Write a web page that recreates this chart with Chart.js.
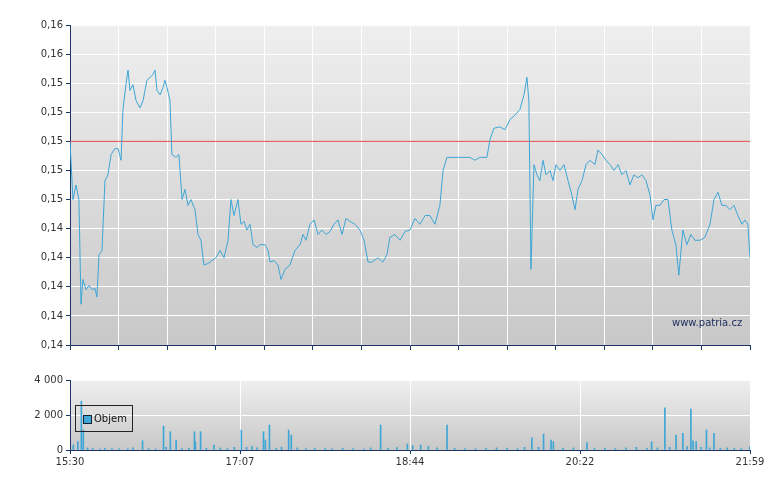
<!DOCTYPE html>
<html><head><meta charset="utf-8">
<script src="https://cdn.jsdelivr.net/npm/chart.js@4"></script>
<style>
body{margin:0;background:#fff;width:780px;height:490px;overflow:hidden;font-family:"DejaVu Sans",Arial,sans-serif}
canvas{position:absolute;left:0}
#wm{position:absolute;left:672px;top:317px;font-size:10px;color:#1a2a5a}
#leg{position:absolute;left:75px;top:405px;width:58px;height:27px;border:1px solid #222;box-sizing:border-box;font-size:10px;color:#111}
#leg span.sw{position:absolute;left:7px;top:9px;width:7px;height:7px;background:#3fa7d6;border:1px solid #123}
#leg span.t{position:absolute;left:18px;top:7px}
</style></head><body>
<canvas id="c1" style="top:0" width="780" height="355"></canvas>
<canvas id="c2" style="top:370px" width="780" height="98"></canvas>
<div id="wm">www.patria.cz</div>
<div id="leg"><span class="sw"></span><span class="t">Objem</span></div>
<script>
const timeLabels=["15:30","17:07","18:44","20:22","21:59"];
const refPrice=0.150;
const priceTimes=[0,1.7,3.4,5.1,6.3,7.4,9.2,10.9,12.6,14.3,15.4,16.6,18.3,20,21.7,23.5,25.7,27.5,29.2,30.3,32,33.2,34.3,36,37.8,40,41.8,44,45.8,47.5,48.6,49.8,51.5,53.2,54.3,55.5,57.2,58.3,60.6,62.3,64.1,65.8,67.5,69.2,71.5,73.2,74.9,76.6,78.9,81.2,83.5,85.8,88.1,90.4,92.1,93.8,96.1,97.8,99.5,101.2,103,104.7,107,108.7,111.5,113.3,114.4,116.7,119,120.7,123,125.8,128.7,131.6,133.3,135,137.3,139.6,141.9,144.1,146.4,148.7,151,153.3,155.6,157.9,160.2,163,165.9,168.2,170.5,172.7,176.2,179,181.3,183,185.9,188.8,191.6,194.5,197.3,200.2,203.1,205.9,208.8,211.6,213.4,215.6,218.5,223.1,228.8,231.7,234.5,238.5,240.2,242.5,246,248.8,251.7,254.5,257.4,259.7,261.4,262.5,263.7,265.4,267.1,268.8,270.6,272.3,274.6,276.3,278,280.3,282.6,284.9,287.1,288.9,290.6,292.9,295.2,297.4,300.3,302,304.3,306.6,308.9,311.2,313.5,315.7,318,320.3,322.6,324.9,327.2,329.5,331.8,333.5,335.2,337.5,339.8,342.1,344.3,346.6,348.3,350.6,352.9,355.2,357.5,360.4,363.2,366.1,368.4,370.7,372.9,375.2,377.5,379.8,382.1,384.4,386.1,387.8,389];
const prices=[.1500,.1460,.1470,.1460,.1388,.1405,.1398,.1401,.1398,.1399,.1393,.1422,.1425,.1473,.1477,.1491,.1495,.1495,.1487,.1522,.1539,.1549,.1535,.1539,.1528,.1523,.1528,.1542,.1544,.1546,.1549,.1535,.1532,.1537,.1542,.1537,.1528,.1491,.1489,.1491,.1460,.1467,.1456,.1460,.1453,.1436,.1432,.1415,.1416,.1418,.1420,.1425,.1420,.1432,.1460,.1449,.1460,.1443,.1445,.1439,.1443,.1429,.1427,.1429,.1429,.1425,.1417,.1418,.1415,.1405,.1412,.1415,.1425,.1429,.1436,.1432,.1443,.1446,.1436,.1439,.1436,.1438,.1443,.1446,.1436,.1447,.1445,.1443,.1439,.1432,.1417,.1417,.1420,.1417,.1422,.1434,.1436,.1432,.1438,.1439,.1447,.1443,.1449,.1449,.1443,.1456,.1480,.1489,.1489,.1489,.1489,.1487,.1489,.1489,.1501,.1509,.1510,.1508,.1515,.1518,.1522,.1532,.1544,.1528,.1412,.1484,.1477,.1473,.1487,.1477,.1480,.1473,.1484,.1480,.1484,.1473,.1463,.1453,.1467,.1473,.1484,.1487,.1484,.1494,.1491,.1487,.1484,.1480,.1484,.1477,.1480,.1470,.1477,.1475,.1477,.1473,.1463,.1446,.1456,.1456,.1460,.1460,.1439,.1429,.1408,.1439,.1429,.1436,.1432,.1432,.1434,.1443,.1460,.1465,.1456,.1456,.1453,.1456,.1449,.1443,.1446,.1443,.1420];
const volTimes=[1.9,4.5,6.5,7.6,10,13,17,20,24,28,33,36,41.5,45,49,53.5,55,57.4,60.7,64,68,71.2,71.7,74.7,78,82.4,86,90,94,98,101,104,107,110.7,111.8,114.1,118,121,125.1,126.6,130,135,140,146,150,156,162,168,172,177.7,182,187,193,196,200.6,205,210,215.7,220,226,232,238,244,250,256,260,264.2,268,270.9,275.2,276.5,282,288,295.7,300,306,312,318,324,330,332.7,336,340.3,343,346.7,350.6,353,355.2,356.4,358.2,361,364.1,366,368.4,372,376,380,384,388.9];
const volumes=[285,475,2790,1140,120,90,60,100,80,60,70,120,530,80,60,1370,150,1045,570,80,90,1045,475,1045,100,285,120,80,150,1140,150,200,120,1045,570,1425,100,160,1140,855,120,80,100,90,70,100,80,60,120,1425,100,140,340,250,285,200,120,1425,100,80,70,90,120,100,80,150,700,150,910,570,475,100,120,420,90,100,80,120,150,100,475,120,2410,150,855,950,180,2340,530,475,150,1140,120,950,100,120,90,80,190];

const bgPlugin={id:'bg',beforeDraw(c){const a=c.chartArea,x=c.ctx;const g=x.createLinearGradient(0,a.top,0,a.bottom);g.addColorStop(0,'#efefef');g.addColorStop(1,'#c8c8c8');x.save();x.fillStyle=g;x.fillRect(a.left,a.top,a.right-a.left,a.bottom-a.top);x.restore();}};
const axisCol='#1c3566';
const fnt={size:10,family:'DejaVu Sans'};
const fmtP=v=>v.toFixed(2).replace('.',',');
const fmtV=v=>String(v).replace(/\B(?=(\d{3})+(?!\d))/g,' ');

new Chart(document.getElementById('c1'),{type:'line',plugins:[bgPlugin],
data:{datasets:[
{data:priceTimes.map((t,i)=>({x:t,y:prices[i]})),borderColor:'#3ea6d6',borderWidth:1,pointRadius:0,tension:0},
{data:[{x:0,y:refPrice},{x:389,y:refPrice}],borderColor:'#e04848',borderWidth:1,pointRadius:0}
]},
options:{responsive:false,animation:false,layout:{padding:{top:25,right:30,bottom:0,left:0}},plugins:{legend:{display:false},tooltip:{enabled:false}},
scales:{
x:{type:'linear',min:0,max:389,afterBuildTicks(s){const t=[];for(let i=0;i<=14;i++)t.push({value:389*i/14});s.ticks=t;},ticks:{display:false},grid:{color:'#ffffff',tickColor:axisCol,tickLength:5},border:{color:axisCol,width:1},afterFit(s){s.height=10;}},
y:{min:0.136,max:0.158,afterBuildTicks(s){const t=[];for(let i=0;i<=11;i++)t.push({value:0.136+0.002*i});s.ticks=t;},ticks:{callback:fmtP,color:'#333',font:fnt,padding:3},grid:{color:'#ffffff',tickColor:axisCol,tickLength:4},border:{color:axisCol,width:1},afterFit(s){s.width=70;}}
}}});

new Chart(document.getElementById('c2'),{type:'bar',plugins:[bgPlugin],
data:{datasets:[{data:volTimes.map((t,i)=>({x:t,y:volumes[i]})),backgroundColor:'#3ea6d6',barThickness:1}]},
options:{responsive:false,animation:false,layout:{padding:{top:10,right:30,bottom:0,left:0}},plugins:{legend:{display:false},tooltip:{enabled:false}},
scales:{
x:{type:'linear',min:0,max:389,offset:false,afterBuildTicks(s){s.ticks=timeLabels.map((l,i)=>({value:389*i/4}));},ticks:{callback:(v,i)=>timeLabels[i],color:'#333',font:fnt,maxRotation:0,padding:2},grid:{color:'#ffffff',tickColor:axisCol,tickLength:4,offset:false},border:{color:axisCol,width:1},afterFit(s){s.height=18;}},
y:{min:0,max:4000,afterBuildTicks(s){s.ticks=[0,2000,4000].map(v=>({value:v}));},ticks:{callback:fmtV,color:'#333',font:fnt,padding:3},grid:{color:'#ffffff',tickColor:axisCol,tickLength:4},border:{color:axisCol,width:1},afterFit(s){s.width=70;}}
}}});
</script></body></html>
